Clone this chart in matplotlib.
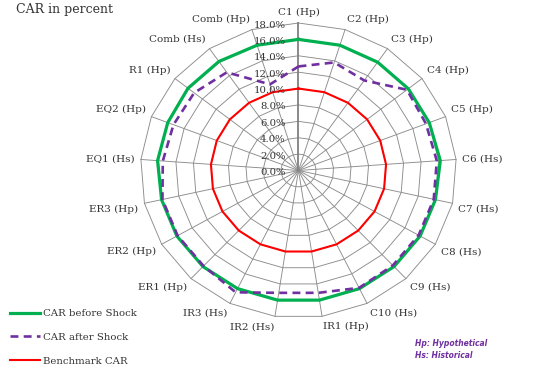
import numpy as np
import matplotlib
matplotlib.use("Agg")
import matplotlib.pyplot as plt

categories = ["C1 (Hp)", "C2 (Hp)", "C3 (Hp)", "C4 (Hp)", "C5 (Hp)", "C6 (Hs)",
              "C7 (Hs)", "C8 (Hs)", "C9 (Hs)", "C10 (Hs)", "IR1 (Hp)", "IR2 (Hs)",
              "IR3 (Hs)", "ER1 (Hp)", "ER2 (Hp)", "ER3 (Hp)", "EQ1 (Hs)", "EQ2 (Hp)",
              "R1 (Hp)", "Comb (Hs)", "Comb (Hp)"]
car_before = [16.0, 16.0, 16.0, 16.0, 16.0, 16.2, 16.0, 16.0, 16.0, 16.0, 16.0,
              16.0, 16.0, 16.0, 16.0, 16.0, 16.1, 16.0, 16.1, 16.1, 16.0]
car_after = [12.7, 13.8, 13.3, 15.8, 15.6, 15.8, 15.8, 15.8, 15.8, 15.9, 15.1,
             15.1, 16.5, 15.9, 15.9, 15.9, 15.5, 15.3, 15.2, 14.5, 11.0]
benchmark = [10.0] * 21
ticks = [0, 2, 4, 6, 8, 10, 12, 14, 16, 18]

txt = "#333333"
grid_col = "#8c8c8c"

fig = plt.figure(figsize=(5.46, 3.71), dpi=100)
ax = fig.add_axes([0.2573, 0.1429, 0.5788, 0.7951], projection="polar")
ax.set_aspect("auto")
ax.set_theta_zero_location("N")
ax.set_theta_direction(-1)
ax.set_ylim(0, 18)
ax.grid(False)
ax.set_xticks([])
ax.set_yticks([])
ax.spines["polar"].set_visible(False)
ax.patch.set_visible(False)

n = len(categories)
ang = np.arange(n) * 2 * np.pi / n
closed = np.append(ang, ang[0])

# polygon grid
for t in ticks[1:]:
    ax.plot(closed, [t] * (n + 1), color=grid_col, lw=0.65, clip_on=False, zorder=1)
for a in ang[1:]:
    ax.plot([a, a], [0, 18], color=grid_col, lw=0.65, clip_on=False, zorder=1)
ax.plot([0, 0], [0, 18], color="#808080", lw=1.3, clip_on=False, zorder=2)

def close(v):
    return list(v) + [v[0]]

l1, = ax.plot(closed, close(car_before), color="#00B050", lw=2.3, clip_on=False, zorder=3)
l2, = ax.plot(closed, close(car_after), color="#7030A0", lw=1.9, dashes=(3, 2),
              clip_on=False, zorder=4)
l3, = ax.plot(closed, close(benchmark), color="#FF0000", lw=1.5, clip_on=False, zorder=3)

# value labels along first spoke
for t in ticks:
    ax.annotate("%.1f%%" % t, xy=(0, t), xytext=(-13, -2), textcoords="offset pixels",
                ha="right", va="center", fontsize=7.3, family="DejaVu Serif",
                color=txt, annotation_clip=False)

# category labels
for a, lab in zip(ang, categories):
    s, c = np.sin(a), np.cos(a)
    ha = "left" if s > 0.1 else ("right" if s < -0.1 else "center")
    va = "bottom" if c > 0.1 else ("top" if c < -0.1 else "center")
    ax.annotate(lab, xy=(a, 18), xytext=(6 * s, 6 * c), textcoords="offset pixels",
                ha=ha, va=va, fontsize=7.5, family="DejaVu Serif", color=txt,
                annotation_clip=False)

fig.text(16 / 546, 1 - 9 / 371, "CAR in percent", ha="left", va="center",
         fontsize=9, family="DejaVu Serif", color=txt)

fig.legend([l1, l2, l3], ["CAR before Shock", "CAR after Shock", "Benchmark CAR"],
           loc="upper left", bbox_to_anchor=(10 / 546, 1 - 309 / 371), frameon=False,
           prop={"family": "DejaVu Serif", "size": 7.3}, labelcolor=txt,
           handlelength=3.0, handletextpad=0.3, labelspacing=1.45, borderpad=0,
           borderaxespad=0)

fig.text(415 / 546, 1 - 343 / 371, "Hp: Hypothetical", ha="left", va="center",
         fontsize=5.5, family="DejaVu Sans", weight="bold", style="italic", color="#7030A0")
fig.text(415 / 546, 1 - 355 / 371, "Hs: Historical", ha="left", va="center",
         fontsize=5.5, family="DejaVu Sans", weight="bold", style="italic", color="#7030A0")

fig.savefig("out.png", dpi=100)
